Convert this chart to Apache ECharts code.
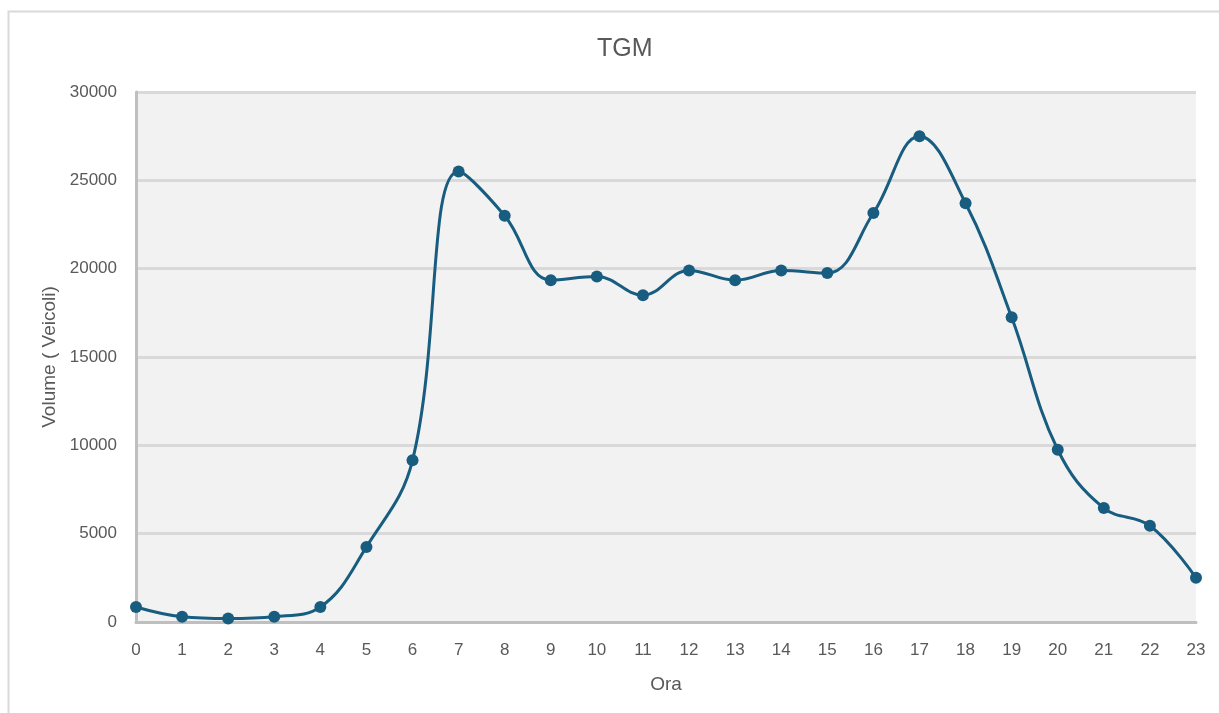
<!DOCTYPE html>
<html>
<head>
<meta charset="utf-8">
<script src="https://cdn.jsdelivr.net/npm/echarts@6/dist/echarts.min.js"></script>
<style>
  html, body { margin: 0; padding: 0; background: #ffffff; }
  #chart { width: 1219px; height: 713px; }
</style>
</head>
<body>
<div id="chart"></div>
<script>
// Hourly traffic volume (TGM) by hour of the day
const hours = ['0','1','2','3','4','5','6','7','8','9','10','11','12','13','14','15','16','17','18','19','20','21','22','23'];
const volumes = [850, 300, 200, 300, 850, 4250, 9150, 25500, 23000, 19350, 19550, 18500, 19900, 19350, 19900, 19750, 23150, 27500, 23700, 17250, 9750, 6450, 5450, 2500];

const textColor = '#595959';
const fontFamily = '"Liberation Sans", Arial, sans-serif';

const chart = echarts.init(document.getElementById('chart'), null, { renderer: 'canvas' });

chart.setOption({
  animation: false,
  backgroundColor: '#ffffff',
  title: {
    text: 'TGM',
    left: 592,
    top: 32,
    textStyle: { color: textColor, fontSize: 25, fontWeight: 'normal', fontFamily: fontFamily }
  },
  graphic: [{
    type: 'rect',
    shape: { x: 8.5, y: 11.5, width: 1240, height: 760 },
    style: { fill: 'none', stroke: '#d9d9d9', lineWidth: 2 },
    silent: true,
    z: -1
  }],
  grid: {
    left: 136, right: 23, top: 92, bottom: 91,
    show: true,
    backgroundColor: '#f2f2f2',
    borderWidth: 0
  },
  xAxis: {
    type: 'category',
    data: hours,
    boundaryGap: false,
    name: 'Ora',
    nameLocation: 'middle',
    nameGap: 53,
    nameTextStyle: { color: textColor, fontSize: 19, fontFamily: fontFamily },
    axisLine: { show: true, lineStyle: { color: '#bfbfbf', width: 3 } },
    axisTick: { show: false },
    axisLabel: { color: textColor, fontSize: 17, margin: 20, fontFamily: fontFamily },
    splitLine: { show: false }
  },
  yAxis: {
    type: 'value',
    min: 0,
    max: 30000,
    interval: 5000,
    name: 'Volume ( Veicoli)',
    nameLocation: 'middle',
    nameGap: 77,
    nameTextStyle: { color: textColor, fontSize: 19, fontFamily: fontFamily },
    axisLine: { show: true, lineStyle: { color: '#bfbfbf', width: 3 } },
    axisTick: { show: false },
    axisLabel: {
      color: textColor, fontSize: 17, margin: 19, fontFamily: fontFamily,
      formatter: (v) => String(v)
    },
    splitLine: { show: true, lineStyle: { color: '#d9d9d9', width: 3 } }
  },
  series: [{
    type: 'line',
    data: volumes,
    smooth: 0.4,
    symbol: 'circle',
    symbolSize: 12,
    lineStyle: { color: '#185d80', width: 3 },
    itemStyle: { color: '#185d80' },
    z: 5
  }]
});
</script>
</body>
</html>
